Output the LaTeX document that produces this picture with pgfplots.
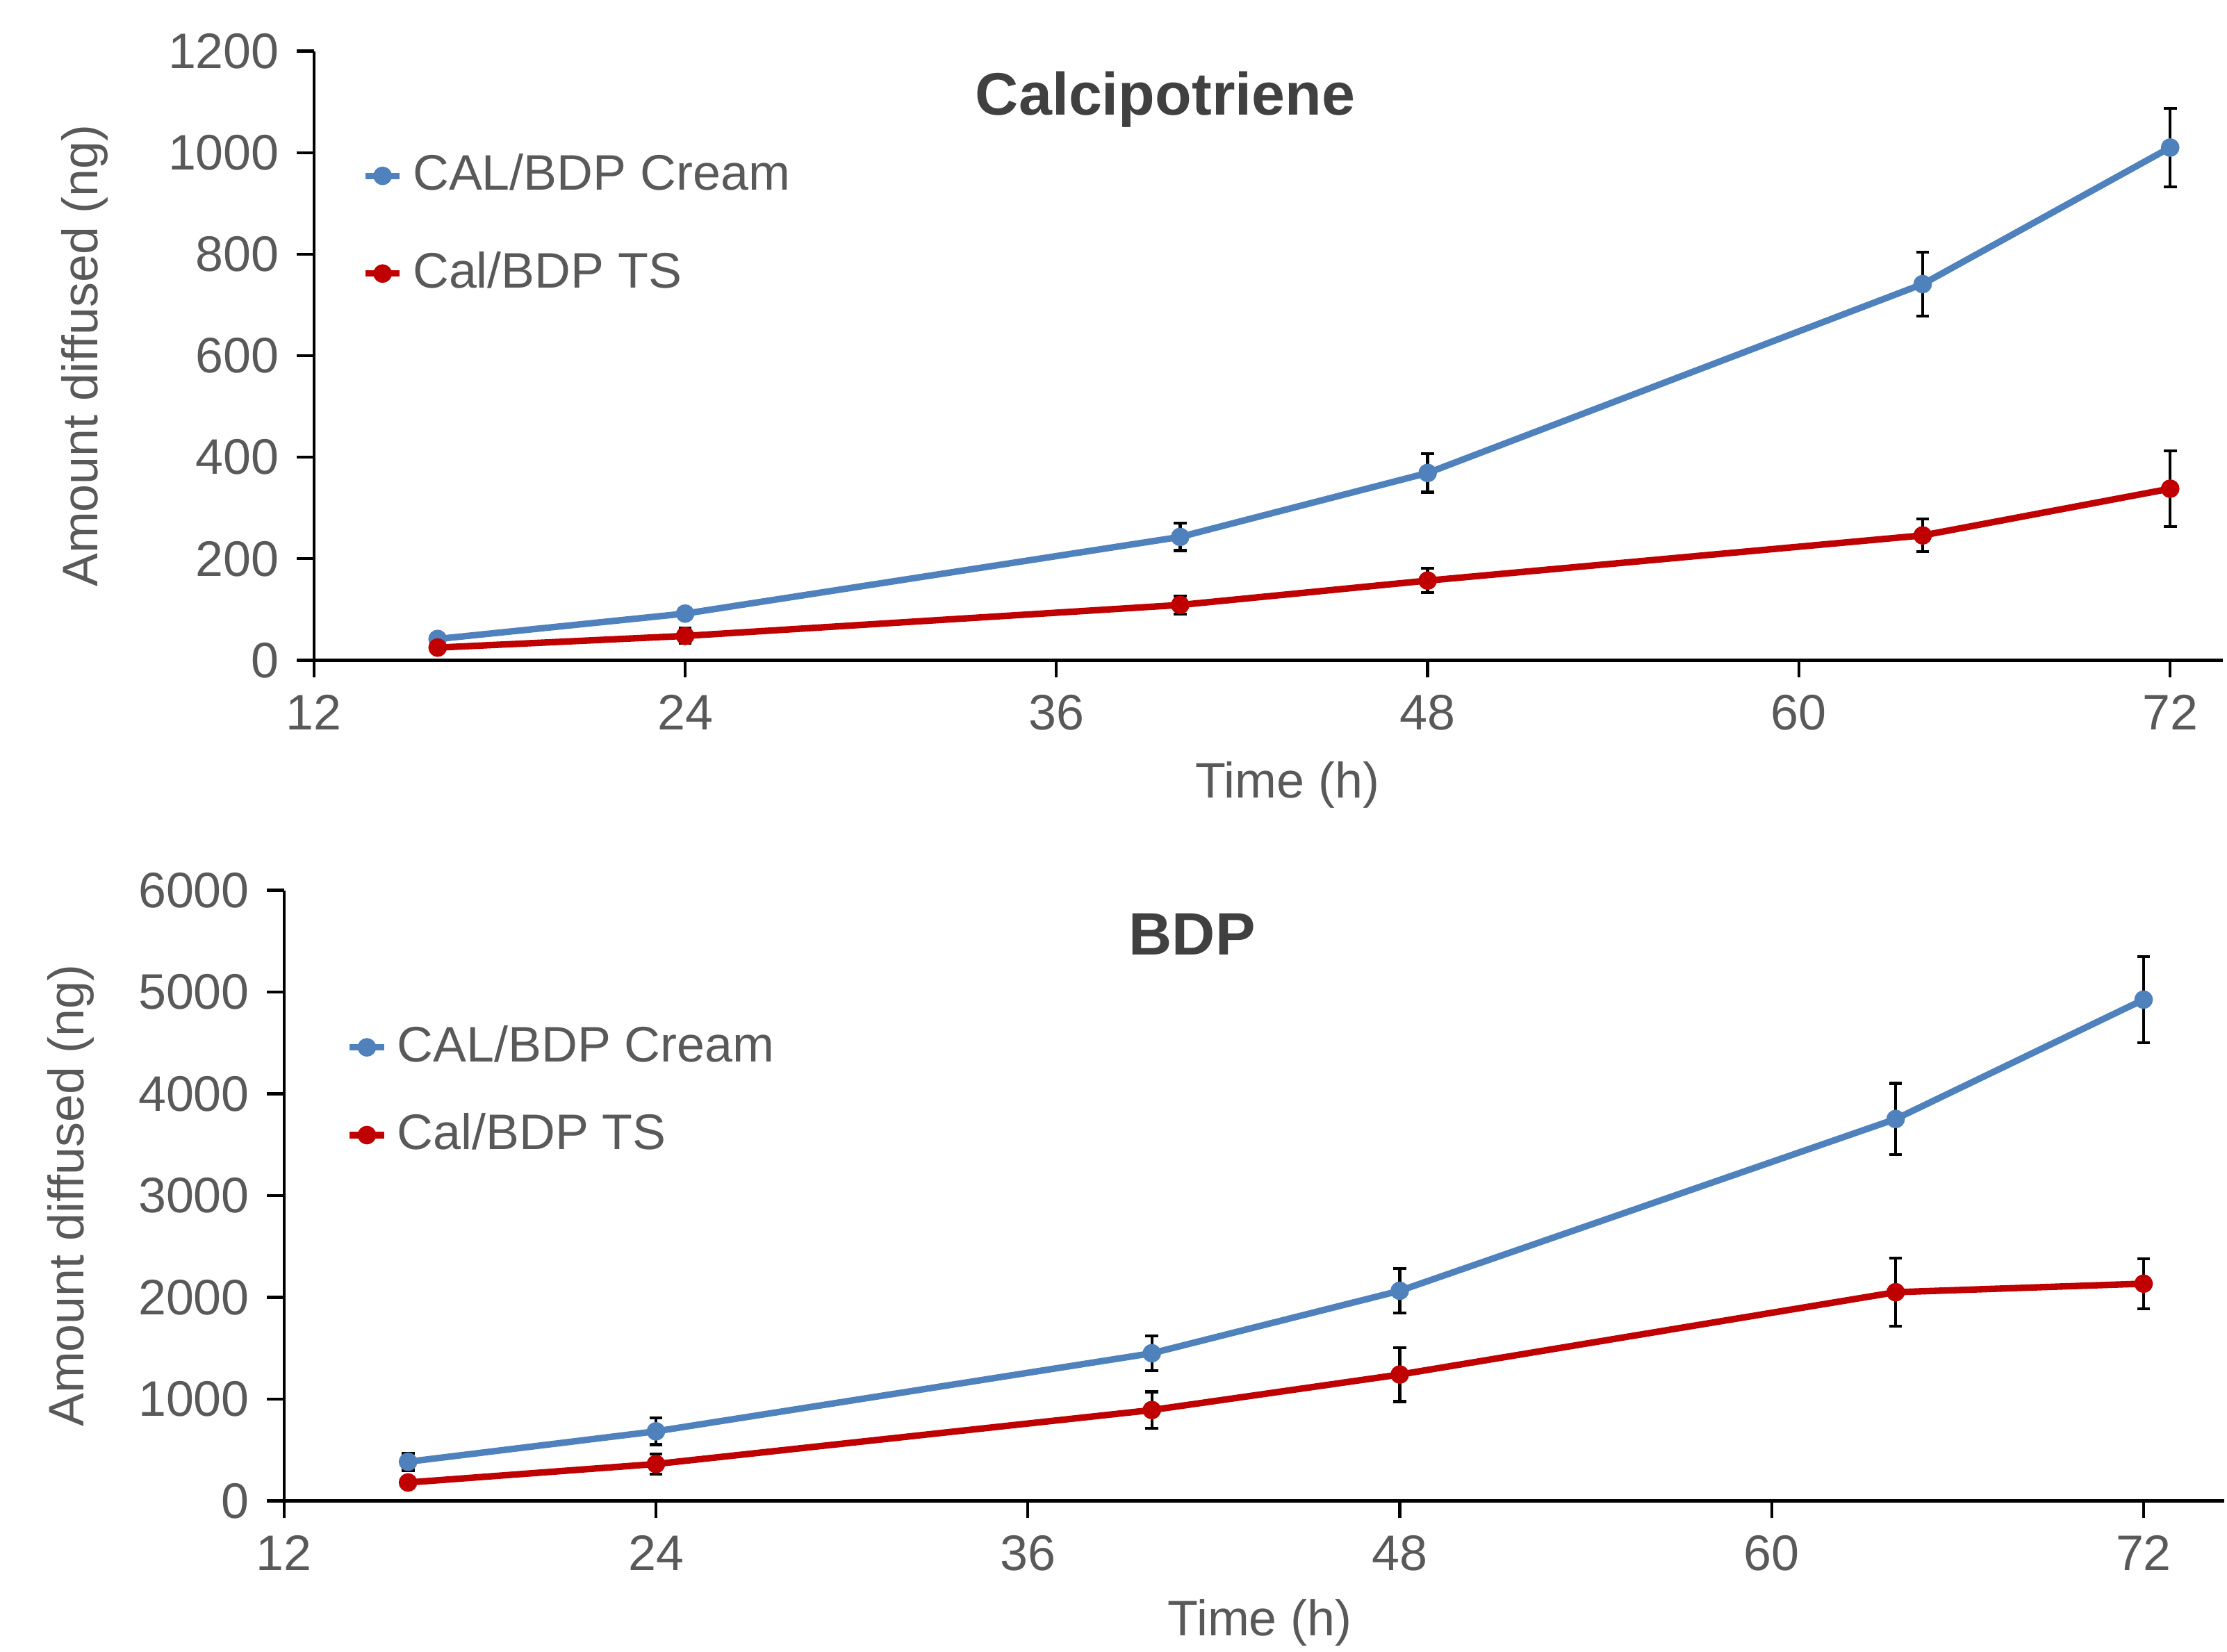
\documentclass[border=0pt]{standalone}
\usepackage{fontspec}
\setmainfont{Liberation Sans}
\usepackage{pgfplots}
\pgfplotsset{compat=1.18}
\definecolor{calblue}{HTML}{4F81BD}
\definecolor{calred}{HTML}{C00000}
\definecolor{txtgray}{HTML}{595959}
\definecolor{ttlgray}{HTML}{404040}

\pgfplotsset{
  diffstyle/.style={
    scale only axis,
    axis x line=bottom, axis y line=left,
    axis line style={line width=0.6pt, -},
    tick align=outside, major tick length=1.2mm,
    tick style={line width=0.6pt, black},
    xmin=12, xtick={12,24,...,72}, ymin=0,
    font=\fontsize{10}{12}\selectfont,
    tick label style={text=txtgray, font=\fontsize{10}{12}\selectfont},
    label style={text=txtgray, font=\fontsize{10}{12}\selectfont},
    /pgf/number format/assume math mode=true,
    /pgf/number format/1000 sep={},
    legend cell align=left,
    legend style={draw=none, fill=none, text=txtgray, font=\fontsize{10}{12}\selectfont, anchor=west},
    legend image code/.code={\draw[mark repeat=2,mark phase=2] plot coordinates {(0cm,0cm)(0.12cm,0cm)(0.24cm,0cm)};},
    title style={font=\bfseries\fontsize{12}{14}\selectfont, text=ttlgray, anchor=center},
    every axis plot/.append style={line width=1.3pt, mark=*, mark size=1.2pt, mark options={solid}},
    error bars/error bar style={line width=0.6pt, black},
    error bars/error mark options={rotate=90, mark size=1.3pt, line width=0.6pt, black},
  }
}

\begin{document}
\begin{tikzpicture}
\useasboundingbox (0,0) rectangle (156.8mm,116.3mm);

% Calcipotriene
\begin{axis}[diffstyle,
  at={(22.1mm,69.8mm)}, anchor=south west,
  width=134.4mm, height=42.9mm,
  xmax=73.7, ymax=1200, ytick={0,200,...,1200},
  title={Calcipotriene}, title style={at={(0.446,0.872)}},
  xlabel={Time (h)}, xlabel style={at={(axis description cs:0.51,-0.205)}, anchor=center},
  ylabel={Amount diffused (ng)}, ylabel style={at={(axis description cs:-0.12,0.5)}, anchor=center},
  legend style={at={(axis description cs:0.017,0.715)}, row sep=2.4mm},
]
\addplot[color=calblue, error bars/.cd, y dir=both, y explicit] coordinates {
  (16,42) +- (0,6)
  (24,92) +- (0,10)
  (40,243) +- (0,27)
  (48,369) +- (0,38)
  (64,741) +- (0,63)
  (72,1010) +- (0,77)
};
\addlegendentry{CAL/BDP Cream}
\addplot[color=calred, error bars/.cd, y dir=both, y explicit] coordinates {
  (16,25) +- (0,5)
  (24,48) +- (0,15)
  (40,109) +- (0,18)
  (48,157) +- (0,24)
  (64,246) +- (0,32)
  (72,338) +- (0,75)
};
\addlegendentry{Cal/BDP TS}
\end{axis}

% BDP
\begin{axis}[diffstyle,
  at={(20.0mm,10.6mm)}, anchor=south west,
  width=136.6mm, height=43.0mm,
  xmax=74.6, ymax=6000, ytick={0,1000,...,6000},
  title={BDP}, title style={at={(0.468,0.879)}},
  xlabel={Time (h)}, xlabel style={at={(axis description cs:0.503,-0.2)}, anchor=center},
  ylabel={Amount diffused (ng)}, ylabel style={at={(axis description cs:-0.11,0.5)}, anchor=center},
  legend style={at={(axis description cs:0.024,0.671)}, row sep=1.7mm},
]
\addplot[color=calblue, error bars/.cd, y dir=both, y explicit] coordinates {
  (16,385) +- (0,85)
  (24,684) +- (0,130)
  (40,1451) +- (0,170)
  (48,2065) +- (0,220)
  (64,3753) +- (0,350)
  (72,4926) +- (0,425)
};
\addlegendentry{CAL/BDP Cream}
\addplot[color=calred, error bars/.cd, y dir=both, y explicit] coordinates {
  (16,181) +- (0,40)
  (24,363) +- (0,100)
  (40,893) +- (0,180)
  (48,1242) +- (0,265)
  (64,2051) +- (0,335)
  (72,2135) +- (0,245)
};
\addlegendentry{Cal/BDP TS}
\end{axis}
\end{tikzpicture}
\end{document}
